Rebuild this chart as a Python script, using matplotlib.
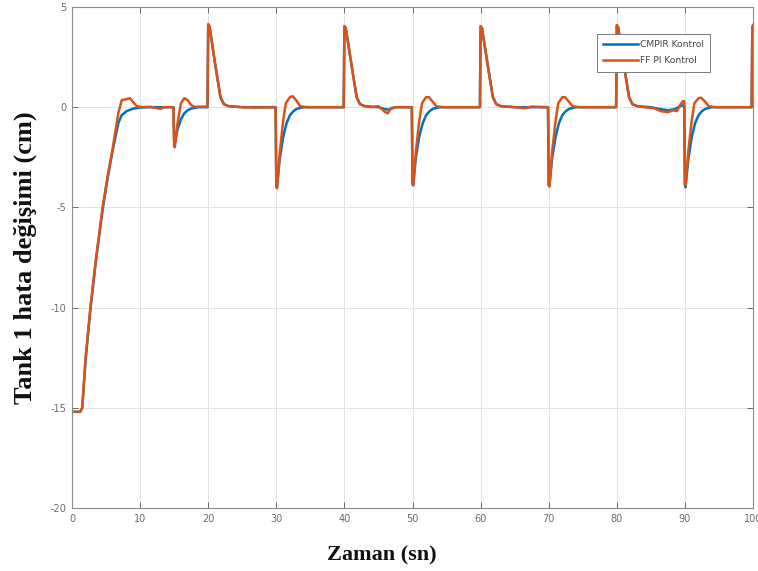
import matplotlib
matplotlib.use("Agg")
import matplotlib.pyplot as plt

plt.rcParams["axes.unicode_minus"] = False

# error traces (time in s, error in cm)
t_cmpir = [0, 1.2, 1.5, 2.0, 2.7, 3.5, 4.5, 5.2, 6.0, 6.8, 7.3, 8.0, 9.0, 10.0, 11.0,
           14.9, 15.0, 15.1, 15.5, 16.0, 16.5, 17.0, 17.5, 18.5, 19.9,
           20.0, 20.2, 21.0, 21.8, 22.3, 23.0, 25.0, 29.9,
           30.0, 30.1, 30.5, 31.0, 31.5, 32.0, 32.5, 33.0, 34.0, 39.9,
           40.0, 40.2, 41.0, 41.8, 42.3, 43.0, 45.0, 46.0, 46.5, 47.5, 49.9,
           50.0, 50.1, 50.5, 51.0, 51.5, 52.0, 52.5, 53.0, 54.0, 59.9,
           60.0, 60.2, 61.0, 61.8, 62.3, 63.0, 65.0, 69.9,
           70.0, 70.1, 70.5, 71.0, 71.5, 72.0, 72.5, 73.0, 74.0, 79.9,
           80.0, 80.2, 81.0, 81.8, 82.3, 83.0, 85.0, 86.5, 87.5, 88.5, 89.3, 89.9,
           90.0, 90.1, 90.5, 91.0, 91.5, 92.0, 92.5, 93.0, 94.0, 99.8,
           99.9, 100.0]
e_cmpir = [-15.2, -15.2, -15.0, -12.6, -10.1, -7.7, -5.1, -3.6, -2.1, -0.8, -0.4, -0.2, -0.07, -0.02, 0.0,
           0.0, -1.7, -1.8, -1.1, -0.6, -0.3, -0.15, -0.07, 0.0, 0.0,
           4.1, 4.0, 2.2, 0.5, 0.15, 0.05, 0.0, 0.0,
           -3.95, -4.0, -2.6, -1.5, -0.8, -0.4, -0.2, -0.08, 0.0, 0.0,
           4.0, 3.95, 2.2, 0.5, 0.15, 0.05, 0.0, -0.1, -0.12, 0.0, 0.0,
           -3.85, -3.9, -2.5, -1.45, -0.8, -0.4, -0.2, -0.08, 0.0, 0.0,
           4.0, 3.95, 2.2, 0.5, 0.15, 0.05, 0.0, 0.0,
           -3.9, -3.95, -2.55, -1.5, -0.8, -0.4, -0.2, -0.08, 0.0, 0.0,
           4.05, 3.95, 2.2, 0.5, 0.15, 0.05, 0.0, -0.1, -0.15, -0.1, 0.05, 0.1,
           -3.9, -4.0, -2.6, -1.5, -0.8, -0.4, -0.2, -0.08, 0.0, 0.0,
           4.0, 4.05]

t_ffpi = [0, 1.2, 1.5, 2.0, 2.7, 3.5, 4.5, 5.2, 6.0, 6.8, 7.3, 8.0, 8.5, 9.0, 9.5, 10.5,
          11.5, 12.5, 13.0, 13.5, 14.9, 15.0, 15.1, 15.5, 16.0, 16.5, 17.0, 17.5, 18.0, 19.9,
          20.0, 20.2, 21.0, 21.8, 22.3, 23.0, 25.0, 27.0, 29.9,
          30.0, 30.1, 30.5, 31.0, 31.4, 32.0, 32.4, 32.9, 33.5, 34.5, 39.9,
          40.0, 40.2, 41.0, 41.8, 42.3, 43.0, 44.0, 45.0, 45.5, 46.0, 46.4, 46.8, 47.5, 49.9,
          50.0, 50.1, 50.5, 51.0, 51.4, 52.0, 52.4, 52.9, 53.5, 54.5, 59.9,
          60.0, 60.2, 61.0, 61.8, 62.3, 63.0, 65.0, 66.5, 67.5, 69.9,
          70.0, 70.1, 70.5, 71.0, 71.4, 72.0, 72.4, 72.9, 73.5, 74.5, 79.9,
          80.0, 80.2, 81.0, 81.8, 82.3, 83.0, 84.0, 85.5, 86.5, 87.5, 88.3, 88.8, 89.3, 89.7, 89.9,
          90.0, 90.1, 90.5, 91.0, 91.4, 92.0, 92.4, 92.9, 93.5, 94.5, 99.8,
          99.9, 100.0]
e_ffpi = [-15.2, -15.2, -15.0, -12.5, -10.0, -7.6, -5.0, -3.5, -2.0, -0.3, 0.35, 0.4, 0.45, 0.25, 0.05, 0.0,
          0.02, -0.05, -0.08, 0.0, 0.0, -1.95, -2.0, -0.8, 0.2, 0.45, 0.35, 0.1, 0.02, 0.03,
          4.15, 4.05, 2.2, 0.5, 0.15, 0.05, 0.0, -0.02, 0.0,
          -3.9, -4.05, -2.3, -0.7, 0.2, 0.5, 0.55, 0.35, 0.05, 0.0, 0.0,
          4.05, 3.95, 2.2, 0.5, 0.15, 0.05, 0.0, 0.05, -0.1, -0.25, -0.3, -0.05, 0.0, 0.0,
          -3.8, -3.9, -2.2, -0.65, 0.2, 0.5, 0.5, 0.3, 0.05, 0.0, 0.0,
          4.05, 3.95, 2.2, 0.5, 0.15, 0.05, 0.0, -0.05, 0.03, 0.0,
          -3.85, -3.95, -2.25, -0.7, 0.2, 0.5, 0.5, 0.3, 0.05, 0.0, 0.0,
          4.1, 4.0, 2.2, 0.5, 0.15, 0.05, 0.0, -0.05, -0.2, -0.25, -0.15, -0.2, 0.1, 0.3, 0.3,
          -3.85, -3.9, -2.2, -0.65, 0.2, 0.45, 0.47, 0.3, 0.05, 0.0, 0.0,
          4.0, 4.1]

x_ticks = [0, 10, 20, 30, 40, 50, 60, 70, 80, 90, 100]
y_ticks = [-20, -15, -10, -5, 0, 5]

BLUE = "#0072BD"
ORANGE = "#D95319"
TICK_COLOR = "#6a6a6a"

fig = plt.figure(figsize=(7.58, 5.71), dpi=100, facecolor="white")
ax = fig.add_axes([72 / 758, 1 - 508 / 571, 681 / 758, 501 / 571])

ax.plot(t_cmpir, e_cmpir, color=BLUE, linewidth=1.8, label="CMPIR Kontrol")
ax.plot(t_ffpi, e_ffpi, color=ORANGE, linewidth=1.8, label="FF PI Kontrol")

ax.set_xlim(0, 100)
ax.set_ylim(-20, 5)
ax.set_xticks(x_ticks)
ax.set_yticks(y_ticks)
ax.grid(True, color="#e3e3e3", linewidth=0.7)
ax.set_axisbelow(True)
ax.tick_params(direction="in", length=4, width=0.7, colors=TICK_COLOR,
               labelsize=7, top=True, right=True, pad=4)
for spine in ax.spines.values():
    spine.set_color("#8c8c8c")
    spine.set_linewidth(0.8)

ax.set_ylabel("Tank 1 hata değişimi (cm)", family="Liberation Serif",
              fontweight="bold", fontsize=19, color="#111111")
ax.yaxis.set_label_coords(-0.052, 0.5)
ax.set_xlabel("Zaman (sn)", family="Liberation Serif",
              fontweight="bold", fontsize=16, color="#111111")
ax.xaxis.set_label_coords(0.455, -0.075)

leg = ax.legend(loc="upper right", bbox_to_anchor=(0.937, 0.946), fontsize=6.6,
                fancybox=False, framealpha=1, edgecolor="#7a7a7a",
                handlelength=3.8, handletextpad=0.2, borderpad=0.7,
                labelspacing=0.75, borderaxespad=0)
leg.get_frame().set_linewidth(0.7)
for txt in leg.get_texts():
    txt.set_color("#444444")

fig.savefig("out.png", dpi=100, facecolor="white")
